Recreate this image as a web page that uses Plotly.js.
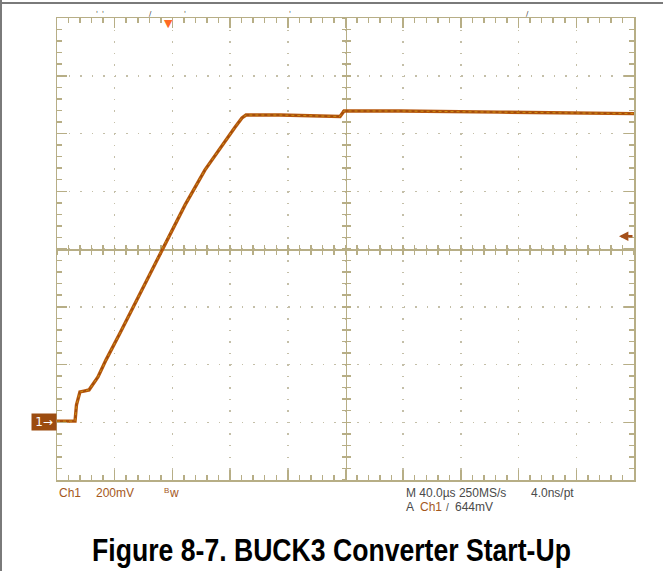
<!DOCTYPE html>
<html>
<head>
<meta charset="utf-8">
<script src="https://cdn.plot.ly/plotly-3.0.1.min.js"></script>
<style>
  html, body { margin: 0; padding: 0; background: #fff; }
  #wrap { position: relative; width: 663px; height: 571px; }
  #chart { position: absolute; left: 0; top: 0; width: 663px; height: 571px; }
  #frameTop { position: absolute; left: 0; top: 2px; width: 663px; height: 2px; background: #7a7a7a; }
  #frameLeft { position: absolute; left: 0; top: 0; width: 2px; height: 571px; background: #7a7a7a; }
</style>
</head>
<body>
<div id="wrap">
  <div id="chart"></div>
  <div id="frameTop"></div>
  <div id="frameLeft"></div>
</div>
<script>
// ---- data (time in microseconds, Ch1 voltage in volts) ----
const timeUs = [0, 12.5, 13.5, 15.9, 18.7, 22.2, 28.4, 34, 43.7, 57.5, 73.5, 88.7, 102.6, 114.4, 123.4, 128.2, 131, 154.6, 192.7, 196.2, 199, 237.8, 307, 376.4, 400];
const ch1V = [0.004, 0.004, 0.06, 0.105, 0.108, 0.112, 0.157, 0.216, 0.309, 0.444, 0.607, 0.752, 0.874, 0.960, 1.022, 1.054, 1.064, 1.064, 1.061, 1.059, 1.078, 1.078, 1.074, 1.071, 1.069];

// scope settings
const timeRange = [0, 400];      // 10 div x 40 us
const voltRange = [-0.2, 1.4];   // 8 div x 200 mV
const timeDiv = 40, voltDiv = 0.2;
const triggerTimeUs = 77.6;
const triggerLevelV = 0.644;
const titleText = 'Figure 8-7. BUCK3 Converter Start-Up';
const readout1 = ['Ch1', '200mV', 'M 40.0µs 250MS/s', '4.0ns/pt'];
const readout2 = ['A', 'Ch1', '/', '644mV'];

const gridCol = '#b7ae86';
const dotCol = '#c4bfa8';
const brown = '#a4581c';
const grayTxt = '#4a4a4a';

const edgeX = {
  range: timeRange, showline: true, linecolor: gridCol, linewidth: 1.5, mirror: 'ticks',
  ticks: 'inside', dtick: timeDiv, tick0: 0, ticklen: 10, tickcolor: gridCol, tickwidth: 1.5,
  showticklabels: false, zeroline: false,
  showgrid: true, gridcolor: dotCol, gridwidth: 1.5, griddash: '1.5px,10.04px',
  minor: { dtick: timeDiv / 5, tick0: 0, ticks: 'inside', ticklen: 5, tickcolor: gridCol, tickwidth: 1.5, showgrid: false },
  fixedrange: true
};
const edgeY = {
  range: voltRange, showline: true, linecolor: gridCol, linewidth: 1.5, mirror: 'ticks',
  ticks: 'inside', dtick: voltDiv, tick0: 0, ticklen: 10, tickcolor: gridCol, tickwidth: 1.5,
  showticklabels: false, zeroline: false,
  showgrid: true, gridcolor: dotCol, gridwidth: 1.5, griddash: '1.5px,10.05px',
  minor: { dtick: voltDiv / 5, tick0: 0, ticks: 'inside', ticklen: 5, tickcolor: gridCol, tickwidth: 1.5, showgrid: false },
  fixedrange: true
};
function centerX(tk) {
  return { range: timeRange, overlaying: 'x', anchor: 'free', position: 0.5, side: 'bottom', layer: 'below traces',
    showline: true, linecolor: gridCol, linewidth: 1.5, ticks: tk, dtick: timeDiv / 5, tick0: 0,
    ticklen: 4, tickcolor: gridCol, tickwidth: 1.5, showticklabels: false, showgrid: false, zeroline: false, fixedrange: true };
}
function centerY(tk) {
  return { range: voltRange, overlaying: 'y', anchor: 'free', position: 0.5, side: 'left', layer: 'below traces',
    showline: true, linecolor: gridCol, linewidth: 1.5, ticks: tk, dtick: voltDiv / 5, tick0: 0,
    ticklen: 4, tickcolor: gridCol, tickwidth: 1.5, showticklabels: false, showgrid: false, zeroline: false, fixedrange: true };
}

const traces = [
  { x: timeUs, y: ch1V, type: 'scatter', mode: 'lines', line: { color: '#b8580e', width: 3.4 }, hoverinfo: 'skip' },
  { x: timeUs, y: ch1V, xaxis: 'x2', yaxis: 'y2', type: 'scatter', mode: 'lines', line: { color: '#8e3f08', width: 1.4 }, opacity: 0.55, hoverinfo: 'skip' },
  { x: timeUs, y: ch1V, xaxis: 'x3', yaxis: 'y3', type: 'scatter', mode: 'lines', line: { color: '#f2c81e', width: 1, dash: 'dot' }, opacity: 0.55, hoverinfo: 'skip' }
];

const F = 'Liberation Sans, Arial, sans-serif';
const row1 = -13, row2 = -27;
function px2paper(px) { return (px - 57) / 577; }
function readout(px, shift, txt, col, size) {
  return { xref: 'paper', yref: 'paper', x: px2paper(px), y: 0, yshift: shift, xanchor: 'left', yanchor: 'middle', showarrow: false,
    text: txt, font: { family: F, size: size || 12, color: col } };
}
const annotations = [
  readout(57, row1, readout1[0], brown),
  readout(94, row1, readout1[1], brown),
  readout(162, row1 + 3, 'B', brown, 8),
  readout(167, row1, 'w', brown),
  readout(404, row1, readout1[2], grayTxt),
  readout(529, row1, readout1[3], grayTxt),
  readout(404, row2, readout2[0], grayTxt),
  readout(418, row2, readout2[1], brown),
  readout(444, row2, readout2[2], grayTxt, 10),
  readout(453, row2, readout2[3], grayTxt),
  // channel 1 ground marker
  { xref: 'paper', yref: 'y', x: 0, y: 0, xanchor: 'right', yanchor: 'middle', showarrow: false, text: '1→',
    bgcolor: '#9c4c10', width: 22, height: 14, borderpad: 1, font: { family: 'DejaVu Sans', size: 12, color: '#ffffff' } },
  // trigger position marker
  { xref: 'x', yref: 'paper', x: triggerTimeUs, y: 1, yshift: 3, xanchor: 'center', yanchor: 'top', showarrow: false, text: '▼',
    font: { family: 'DejaVu Sans', size: 11, color: '#ff6a22' } },
  // trigger level marker
  { xref: 'paper', yref: 'y', x: px2paper(619), y: triggerLevelV, showarrow: true, ax: 15, ay: 0, text: '',
    arrowhead: 2, arrowsize: 0.75, arrowwidth: 2.5, arrowcolor: '#a4501a', standoff: 0 }
];
// tiny cursor marks above the top edge
[[97, "'"], [103, "'"], [150, '/'], [185, "'"], [290, "'"], [527, '/']].forEach(function (m) {
  annotations.push({ xref: 'paper', yref: 'paper', x: px2paper(m[0]), y: 1, yshift: 4, xanchor: 'center', yanchor: 'middle', showarrow: false,
    text: m[1], font: { family: 'DejaVu Sans', size: 7, color: '#333333' } });
});

const layout = {
  width: 663, height: 571,
  margin: { l: 57, r: 29, t: 18, b: 91, pad: 0 },
  paper_bgcolor: '#ffffff', plot_bgcolor: '#ffffff',
  showlegend: false,
  title: { text: '<b>' + titleText + '</b>', xref: 'container', x: 0.5, xanchor: 'center', yref: 'container', y: 1 - 550 / 571, yanchor: 'middle',
    font: { family: 'Liberation Sans, Arial, sans-serif', size: 31, color: '#000000' } },
  xaxis: edgeX, yaxis: edgeY,
  xaxis2: centerX('outside'), xaxis3: centerX('inside'),
  yaxis2: centerY('outside'), yaxis3: centerY('inside'),
  annotations: annotations
};

Plotly.newPlot('chart', traces, layout, { staticPlot: true, displayModeBar: false }).then(function (gd) {
  // narrow the bold title horizontally to mimic a condensed face
  const t = gd.querySelector('.gtitle');
  if (t) {
    const bb = t.getBBox();
    const target = 479;
    const s = target / bb.width;
    const cx = bb.x + bb.width / 2;
    t.setAttribute('transform', 'translate(' + cx + ',0) scale(' + s + ',1) translate(' + (-cx) + ',0)');
  }
});
</script>
</body>
</html>
